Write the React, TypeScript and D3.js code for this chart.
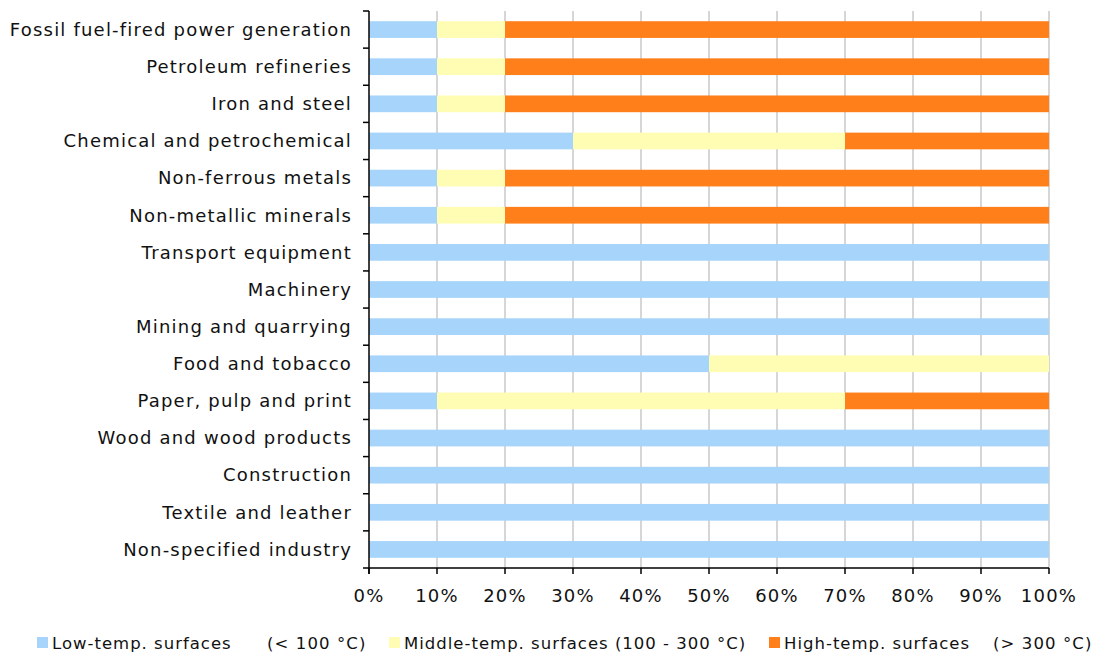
import React from "react";
import * as d3 from "d3";

const categories = [
  "Fossil fuel-fired power generation",
  "Petroleum refineries",
  "Iron and steel",
  "Chemical and petrochemical",
  "Non-ferrous metals",
  "Non-metallic minerals",
  "Transport equipment",
  "Machinery",
  "Mining and quarrying",
  "Food and tobacco",
  "Paper, pulp and print",
  "Wood and wood products",
  "Construction",
  "Textile and leather",
  "Non-specified industry",
];
const lowTemp = [10, 10, 10, 30, 10, 10, 100, 100, 100, 50, 10, 100, 100, 100, 100];
const midTemp = [10, 10, 10, 40, 10, 10, 0, 0, 0, 50, 60, 0, 0, 0, 0];
const highTemp = [80, 80, 80, 30, 80, 80, 0, 0, 0, 0, 30, 0, 0, 0, 0];
const seriesNames = ["Low-temp. surfaces", "Middle-temp. surfaces (100 - 300 °C)", "High-temp. surfaces"];
const seriesRanges = ["(< 100 °C)", "", "(> 300 °C)"];
const seriesColors = ["#A6D4FA", "#FFFDB3", "#FF7F1A"];
const xTicks = [0, 10, 20, 30, 40, 50, 60, 70, 80, 90, 100];

export default function App() {
  const W = 1099, H = 657;
  const left = 369, right = 1049, top = 11, bottom = 568;
  const x = d3.scaleLinear().domain([0, 100]).range([left, right]);
  const y = d3.scaleBand().domain(categories).range([top, bottom]).paddingInner(0.55).paddingOuter(0.275);
  const yb = d3.scaleBand().domain(categories).range([top, bottom]);
  const series = [lowTemp, midTemp, highTemp];
  const font = "DejaVu Sans, Verdana, sans-serif";
  const legendX = [37, 389, 769];
  const rangeDx = [230, 0, 224];

  return (
    <svg width={W} height={H} style={{ position: "absolute", left: 0, top: 0 }} fontFamily={font}>
      {xTicks.slice(1).map((t) => (
        <line key={"g" + t} x1={x(t)} x2={x(t)} y1={top} y2={bottom} stroke="#c8c8c8" strokeWidth={1.5} />
      ))}
      {categories.map((c, i) => {
        let acc = 0;
        return series.map((s, k) => {
          const v = s[i];
          const x0 = acc;
          acc += v;
          if (v <= 0) return null;
          return (
            <rect key={c + k} x={x(x0)} y={y(c)!} width={x(x0 + v) - x(x0)} height={y.bandwidth()} fill={seriesColors[k]} />
          );
        });
      })}
      <line x1={left} x2={left} y1={top} y2={bottom + 6} stroke="#000" strokeWidth={1.5} />
      <line x1={left - 6} x2={right} y1={bottom} y2={bottom} stroke="#000" strokeWidth={1.5} />
      {categories.map((c) => (
        <line key={"yt" + c} x1={left - 6} x2={left} y1={yb(c)!} y2={yb(c)!} stroke="#000" strokeWidth={1.5} />
      ))}
      {xTicks.map((t) => (
        <g key={"xt" + t}>
          <line x1={x(t)} x2={x(t)} y1={bottom} y2={bottom + 6} stroke="#000" strokeWidth={1.5} />
          <text x={x(t)} y={bottom + 34} textAnchor="middle" fontSize={18} letterSpacing={1.2} fill="#111">{t}%</text>
        </g>
      ))}
      {categories.map((c) => (
        <text key={"yl" + c} x={352} y={yb(c)! + yb.bandwidth() / 2} dy="0.35em" textAnchor="end" fontSize={18} letterSpacing={1.2} fill="#111">{c}</text>
      ))}
      {seriesNames.map((n, k) => (
        <g key={"lg" + k}>
          <rect x={legendX[k]} y={637} width={11} height={11} fill={seriesColors[k]} />
          <text x={legendX[k] + 15} y={649} fontSize={16.5} letterSpacing={1} fill="#111">{n}</text>
          {seriesRanges[k] && (
            <text x={legendX[k] + rangeDx[k]} y={649} fontSize={16.5} letterSpacing={1.1} fill="#111">{seriesRanges[k]}</text>
          )}
        </g>
      ))}
    </svg>
  );
}
